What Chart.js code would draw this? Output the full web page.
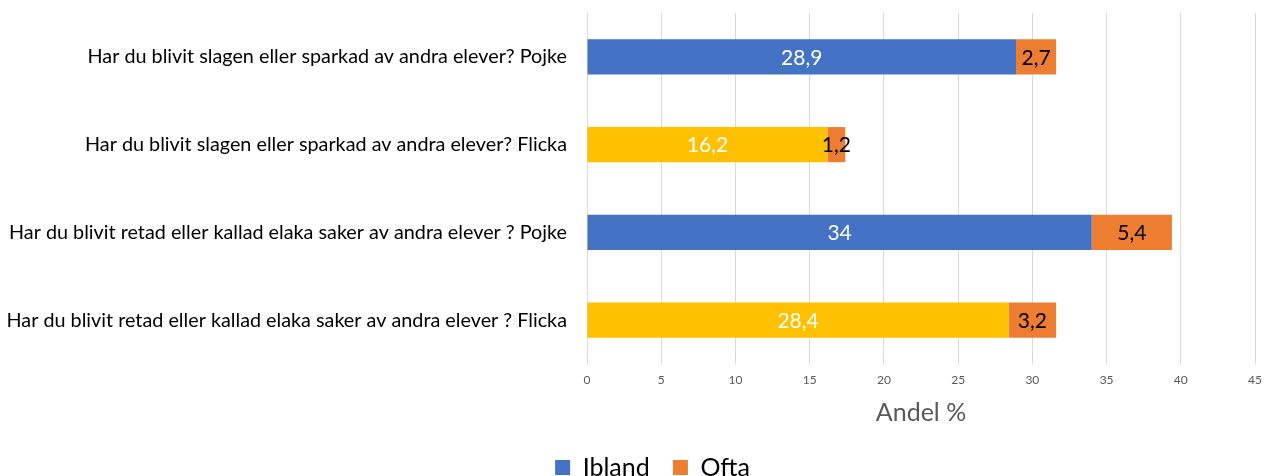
<!DOCTYPE html>
<html>
<head>
<meta charset="utf-8">
<script src="https://cdn.jsdelivr.net/npm/chart.js@4"></script>
<style>
    html, body { margin: 0; padding: 0; background: #fff; }
    #wrap { width: 1271px; height: 476px; }
</style>
</head>
<body>
<div id="wrap"><canvas id="mobbChart" width="1271" height="476"></canvas></div>
<script>
// fragor och svar
const categories = [
    'Har du blivit slagen eller sparkad av andra elever? Pojke',
    'Har du blivit slagen eller sparkad av andra elever? Flicka',
    'Har du blivit retad eller kallad elaka saker av andra elever ? Pojke',
    'Har du blivit retad eller kallad elaka saker av andra elever ? Flicka'
];
const ibland = [28.9, 16.2, 34, 28.4];
const ofta = [2.7, 1.2, 5.4, 3.2];
const xTicks = [0, 5, 10, 15, 20, 25, 30, 35, 40, 45];
const seriesNames = ['Ibland', 'Ofta'];

const BLUE = '#4472C4';
const YELLOW = '#FFC000';
const ORANGE = '#ED7D31';
const FONT = 'Lato, "Open Sans", sans-serif';

// pojke = blatt, flicka = gult
const iblandColors = categories.map(function (c) {
    return c.indexOf('Pojke') >= 0 ? BLUE : YELLOW;
});

function fmt(v) {
    return String(v).replace('.', ',');
}

// skriver vardet mitt i varje stapel
const barValues = {
    id: 'barValues',
    afterDatasetsDraw: function (chart) {
        const ctx = chart.ctx;
        ctx.save();
        ctx.font = '21px ' + FONT;
        ctx.textAlign = 'center';
        ctx.textBaseline = 'middle';
        chart.data.datasets.forEach(function (ds, i) {
            const meta = chart.getDatasetMeta(i);
            ctx.fillStyle = i === 0 ? '#ffffff' : '#000000';
            meta.data.forEach(function (bar, j) {
                const cx = (bar.x + bar.base) / 2;
                ctx.fillText(fmt(ds.data[j]), cx, bar.y + 1);
            });
        });
        ctx.restore();
    }
};

// legenden lite lagre och lite till hoger
const legendMove = {
    id: 'legendMove',
    afterLayout: function (chart) {
        const lg = chart.legend;
        lg.top += 14;
        lg.bottom += 14;
        lg.left += 22;
        lg.right += 22;
    }
};

const config = {
    type: 'bar',
    data: {
        labels: categories,
        datasets: [{
            label: seriesNames[0],
            data: ibland,
            backgroundColor: iblandColors,
            categoryPercentage: 1,
            barPercentage: 0.4
        }, {
            label: seriesNames[1],
            data: ofta,
            backgroundColor: ORANGE,
            categoryPercentage: 1,
            barPercentage: 0.4
        }]
    },
    options: {
        indexAxis: 'y',
        responsive: false,
        animation: false,
        layout: { padding: { top: 13, right: 10, left: 0, bottom: 0 } },
        scales: {
            x: {
                stacked: true,
                min: 0,
                max: 45,
                afterBuildTicks: function (axis) {
                    axis.ticks = xTicks.map(function (v) { return { value: v }; });
                },
                afterFit: function (axis) { axis.height = 73; },
                grid: { color: '#d9d9d9', lineWidth: 1, drawTicks: false },
                border: { display: false },
                ticks: {
                    padding: 9,
                    color: '#595959',
                    font: { family: FONT, size: 12 },
                    maxRotation: 0
                },
                title: {
                    display: true,
                    text: 'Andel %',
                    color: '#595959',
                    font: { family: FONT, size: 25, lineHeight: 1 },
                    padding: { top: 0, bottom: 12 }
                }
            },
            y: {
                stacked: true,
                afterFit: function (axis) { axis.width = 587; },
                grid: {
                    display: false,
                    drawTicks: true,
                    tickLength: 20,
                    tickColor: 'rgba(0,0,0,0)'
                },
                border: { display: false },
                ticks: {
                    padding: 0,
                    color: '#000000',
                    font: { family: FONT, size: 19.8 },
                    autoSkip: false
                }
            }
        },
        plugins: {
            tooltip: { enabled: false },
            legend: {
                position: 'bottom',
                labels: {
                    color: '#595959',
                    font: { family: FONT, size: 25, lineHeight: 1 },
                    boxWidth: 15,
                    boxHeight: 15,
                    padding: 4,
                    generateLabels: function () {
                        const fills = [BLUE, ORANGE];
                        return seriesNames.map(function (name, i) {
                            return {
                                text: i === 0 ? name + '   ' : name,
                                fillStyle: fills[i],
                                strokeStyle: fills[i],
                                lineWidth: 0,
                                datasetIndex: i
                            };
                        });
                    }
                }
            }
        }
    },
    plugins: [barValues, legendMove]
};

const myChart = new Chart(document.getElementById('mobbChart'), config);
</script>
</body>
</html>
